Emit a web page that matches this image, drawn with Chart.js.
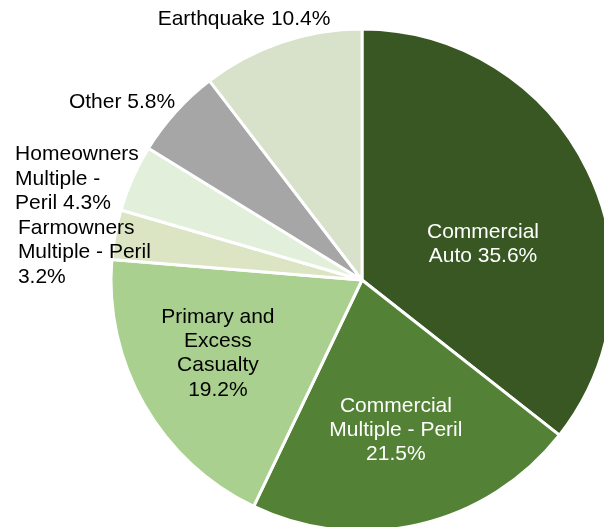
<!DOCTYPE html>
<html>
<head>
<meta charset="utf-8">
<script src="https://cdn.jsdelivr.net/npm/chart.js@4.4.1/dist/chart.umd.min.js"></script>
<style>
html,body{margin:0;padding:0;background:#fff;overflow:hidden;}
canvas{display:block;}
</style>
</head>
<body>
<canvas id="c" width="604" height="527"></canvas>
<script>
// ---- data ----
const categories = [
  "Commercial Auto",
  "Commercial Multiple - Peril",
  "Primary and Excess Casualty",
  "Farmowners Multiple - Peril",
  "Homeowners Multiple - Peril",
  "Other",
  "Earthquake"
];
const shares = [35.6, 21.5, 19.2, 3.2, 4.3, 5.8, 10.4];
const sliceColors = ["#385723", "#538135", "#a9d08e", "#dbe5c4", "#e2efda", "#a6a6a6", "#d8e1c9"];

// ---- label layout (relative to pie centre, in units of radius) ----
const labelLayout = [
  {dx: 0.482, dy: -0.143, align: "center", color: "#ffffff", wrap: 120},
  {dx: 0.135, dy: 0.598, align: "center", color: "#ffffff", wrap: 140},
  {dx: -0.574, dy: 0.293, align: "center", color: "#000000", wrap: 118},
  {dx: -1.371, dy: -0.109, align: "left", color: "#000000", wrap: 140},
  {dx: -1.382, dy: -0.403, align: "left", color: "#000000", wrap: 128},
  {dx: -0.956, dy: -0.709, align: "center", color: "#000000", wrap: 300},
  {dx: -0.470, dy: -1.038, align: "center", color: "#000000", wrap: 300}
];
const FONT = '21px "Liberation Sans", Arial, sans-serif';
const LINE_H = 24.3;

function wrapText(ctx, text, maxW) {
  const words = text.split(" ");
  const lines = [];
  let cur = "";
  for (const w of words) {
    const t = cur ? cur + " " + w : w;
    if (cur && ctx.measureText(t).width > maxW) { lines.push(cur); cur = w; }
    else cur = t;
  }
  if (cur) lines.push(cur);
  return lines;
}

const labelPlugin = {
  id: "sliceLabels",
  afterDatasetsDraw(chart) {
    const ctx = chart.ctx;
    const meta = chart.getDatasetMeta(0);
    const a0 = meta.data[0];
    const cx = a0.x, cy = a0.y, R = a0.outerRadius;
    ctx.save();
    ctx.font = FONT;
    ctx.textBaseline = "middle";
    categories.forEach((cat, i) => {
      const L = labelLayout[i];
      const text = cat + " " + shares[i].toFixed(1) + "%";
      const lines = wrapText(ctx, text, L.wrap);
      const x = cx + L.dx * R;
      const y0 = cy + L.dy * R - (lines.length - 1) * LINE_H / 2;
      ctx.fillStyle = L.color;
      ctx.textAlign = L.align;
      lines.forEach((ln, k) => ctx.fillText(ln, x, y0 + k * LINE_H));
    });
    ctx.restore();
  }
};

new Chart(document.getElementById("c"), {
  type: "pie",
  data: {
    labels: categories,
    datasets: [{
      data: shares,
      backgroundColor: sliceColors,
      borderColor: "#ffffff",
      borderWidth: 3,
      radius: 251
    }]
  },
  options: {
    responsive: false,
    animation: false,
    layout: {padding: {left: 120, right: 0, top: 33, bottom: 0}},
    plugins: {legend: {display: false}, tooltip: {enabled: false}}
  },
  plugins: [labelPlugin]
});
</script>
</body>
</html>
